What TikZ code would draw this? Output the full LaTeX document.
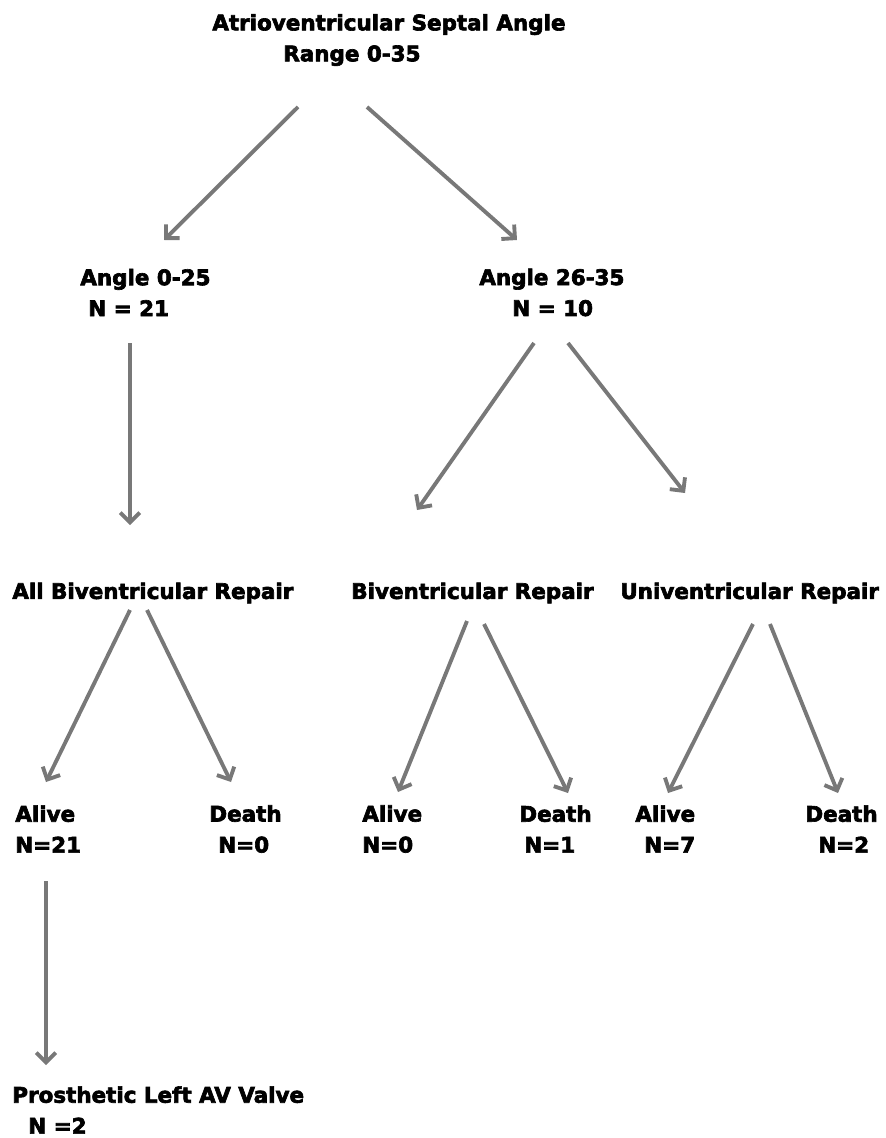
\documentclass[tikz,border=0pt]{standalone}
\usepackage{fontspec}
\usepackage{tikz}
\usetikzlibrary{
  arrows.meta,
  positioning,
  calc
}
\newfontfamily\heavyfont{DejaVu Sans}[UprightFont={* Bold}, FakeBold=3]
\definecolor{arrowGray}{HTML}{787878}

\begin{document}
\begin{tikzpicture}[x=0.02cm, y=-0.02cm,
  lbl/.style={font=\heavyfont\fontsize{12.2}{17.6}\selectfont, align=left, anchor=west, inner sep=0pt},
  arr/.style={draw=arrowGray, line width=2.2pt, -{Straight Barb[length=5.5pt, width=11pt]}}]
  \useasboundingbox (0,0) rectangle (885,1138);

  % levels
  \node[lbl] (top) at (212, 40) {Atrioventricular Septal Angle\\\hspace*{1.42cm}Range 0-35};
  \node[lbl] (a1) at (80, 292.5) {Angle 0-25\\\hspace*{0.16cm}N = 21};
  \node[lbl] (a2) at (479, 292.5) {Angle 26-35\\\hspace*{0.66cm}N = 10};
  \node[lbl] (b1) at (12, 593) {All Biventricular Repair};
  \node[lbl] (b2) at (351, 593) {Biventricular Repair};
  \node[lbl] (b3) at (620, 593) {Univentricular Repair};
  \node[lbl] (c1) at (15, 829) {Alive\\N=21};
  \node[lbl] (c2) at (209, 829) {Death\\\hspace*{0.18cm}N=0};
  \node[lbl] (c3) at (362, 829) {Alive\\N=0};
  \node[lbl] (c4) at (519, 829) {Death\\\hspace*{0.1cm}N=1};
  \node[lbl] (c5) at (635, 829) {Alive\\\hspace*{0.18cm}N=7};
  \node[lbl] (c6) at (805, 829) {Death\\\hspace*{0.26cm}N=2};
  \node[lbl] (d1) at (12, 1110) {Prosthetic Left AV Valve\\\hspace*{0.32cm}N =2};

  % arrows
  \draw[arr] ($(top.west)+(86,67)$) -- ($(a1.west)+(84,-52.5)$);
  \draw[arr] ($(top.west)+(155,67)$) -- ($(a2.west)+(38,-52.5)$);
  \draw[arr] ($(a1.west)+(50,50.5)$) -- ($(b1.west)+(118,-68)$);
  \draw[arr] ($(a2.west)+(55,50.5)$) -- ($(b2.west)+(66,-83)$);
  \draw[arr] ($(a2.west)+(89,50.5)$) -- ($(b3.west)+(65,-100)$);
  \draw[arr] ($(b1.west)+(118,17)$) -- ($(c1.west)+(31,-47)$);
  \draw[arr] ($(b1.west)+(135,17)$) -- ($(c2.west)+(22,-47)$);
  \draw[arr] ($(b2.west)+(116,28)$) -- ($(c3.west)+(36,-37)$);
  \draw[arr] ($(b2.west)+(133,31)$) -- ($(c4.west)+(49,-36)$);
  \draw[arr] ($(b3.west)+(133,31)$) -- ($(c5.west)+(33,-36)$);
  \draw[arr] ($(b3.west)+(150,31)$) -- ($(c6.west)+(33,-36)$);
  \draw[arr] ($(c1.west)+(31,52)$) -- ($(d1.west)+(34,-45)$);
\end{tikzpicture}
\end{document}
